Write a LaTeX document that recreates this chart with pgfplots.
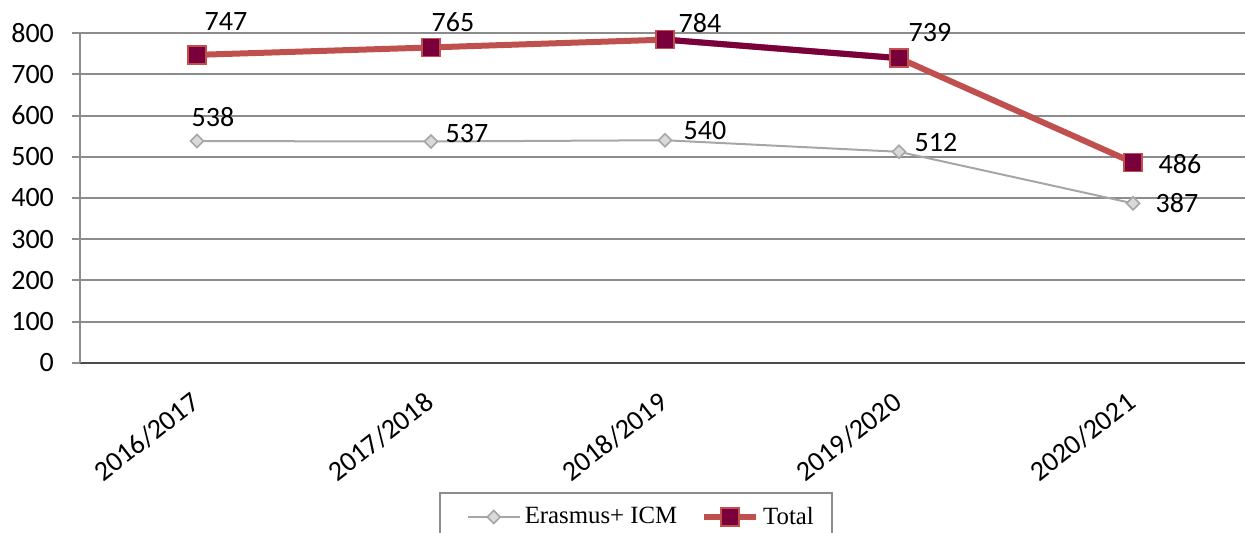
\documentclass[border=0pt]{standalone}
\usepackage{fontspec}
\setmainfont{Carlito}
\newfontfamily\legfont{Liberation Serif}
\usepackage{pgfplots}
\pgfplotsset{compat=1.18}
\usepackage{pgfplotstable}

\definecolor{totred}{RGB}{192,80,77}
\definecolor{maroonc}{RGB}{122,0,60}
\definecolor{ergray}{RGB}{166,166,166}
\definecolor{erfill}{RGB}{217,217,217}
\definecolor{gridc}{RGB}{140,140,140}

\pgfplotstableread{
x y dx dy
0 538 8 12
1 537 18 4
2 540 20 5
3 512 18.5 4.5
4 387 22 0
}\erasmus
\pgfplotstableread{
x y dx dy
0 747 14.5 16.5
1 765 11 12.5
2 784 17.5 8.5
3 739 15.5 13
4 486 23.5 -1
}\total

\pgfplotsset{lbl/.style={
  visualization depends on={\thisrow{dx}\as\dx},
  visualization depends on={\thisrow{dy}\as\dy},
  nodes near coords,
  nodes near coords style={anchor=center, xshift=\dx pt, yshift=\dy pt, black, font=\fontsize{14}{16}\selectfont}}}

\begin{document}
\begin{tikzpicture}
\useasboundingbox (0,0) rectangle (622.5pt,266.5pt);
\begin{axis}[
  at={(40pt,85pt)}, anchor=south west,
  width=585pt, height=165pt, scale only axis,
  xmin=-0.5, xmax=4.5, ymin=0, ymax=800,
  ytick={0,100,...,800},
  xtick={0,1,2,3,4},
  xticklabels={2016/2017,2017/2018,2018/2019,2019/2020,2020/2021},
  axis lines*=left,
  clip=false,
  ymajorgrids,
  grid style={gridc, line width=1pt},
  x axis line style={draw=black!70, line width=1.3pt},
  y axis line style={draw=gridc, line width=1.2pt},
  tick align=outside,
  major tick length=4pt,
  xtick style={draw=none},
  ytick style={draw=gridc, line width=1pt},
  /pgf/number format/assume math mode=true,
  tick label style={font=\fontsize{14}{16}\selectfont},
  yticklabel style={xshift=-5.5pt},
  xticklabel style={rotate=38, anchor=east, xshift=-5.5pt, yshift=-10.5pt},
  legend style={at={(0.3068,-0.391)}, anchor=north west, draw=gridc, line width=0.8pt,
    font=\legfont\fontsize{12.4}{14}\selectfont, legend columns=2,
    inner xsep=7pt, inner ysep=5pt,
    /tikz/every even column/.append style={column sep=3.5pt}},
  legend cell align=left,
  legend image code/.code={\path (0pt,0pt); \draw[mark repeat=2,mark phase=2,#1] plot coordinates {(6.5pt,0pt)(19.5pt,0pt)(32.5pt,0pt)};},
]
\addplot[ergray, line width=1pt, mark=square*, forget plot,
  mark options={rotate=45, fill=erfill, draw=ergray, line width=0.8pt}, mark size=2.3pt, lbl]
  table[x=x,y=y] {\erasmus};
\addplot[totred, line width=3pt, forget plot] table[x=x,y=y] {\total};
\addplot[maroonc, line width=3pt, forget plot] coordinates {(2,784) (3,739)};
\addplot[only marks, forget plot, mark=square*,
  mark options={fill=maroonc, draw=totred, line width=0.8pt}, mark size=4.5pt, lbl]
  table[x=x,y=y] {\total};
\addlegendimage{ergray, line width=1pt, mark=square*, mark options={rotate=45, fill=erfill, draw=ergray, line width=0.8pt}, mark size=2.3pt}
\addlegendentry{Erasmus+ ICM}
\addlegendimage{totred, line width=3pt, mark=square*, mark options={fill=maroonc, draw=totred, line width=0.8pt}, mark size=4.5pt}
\addlegendentry{Total}
\end{axis}
\end{tikzpicture}
\end{document}
